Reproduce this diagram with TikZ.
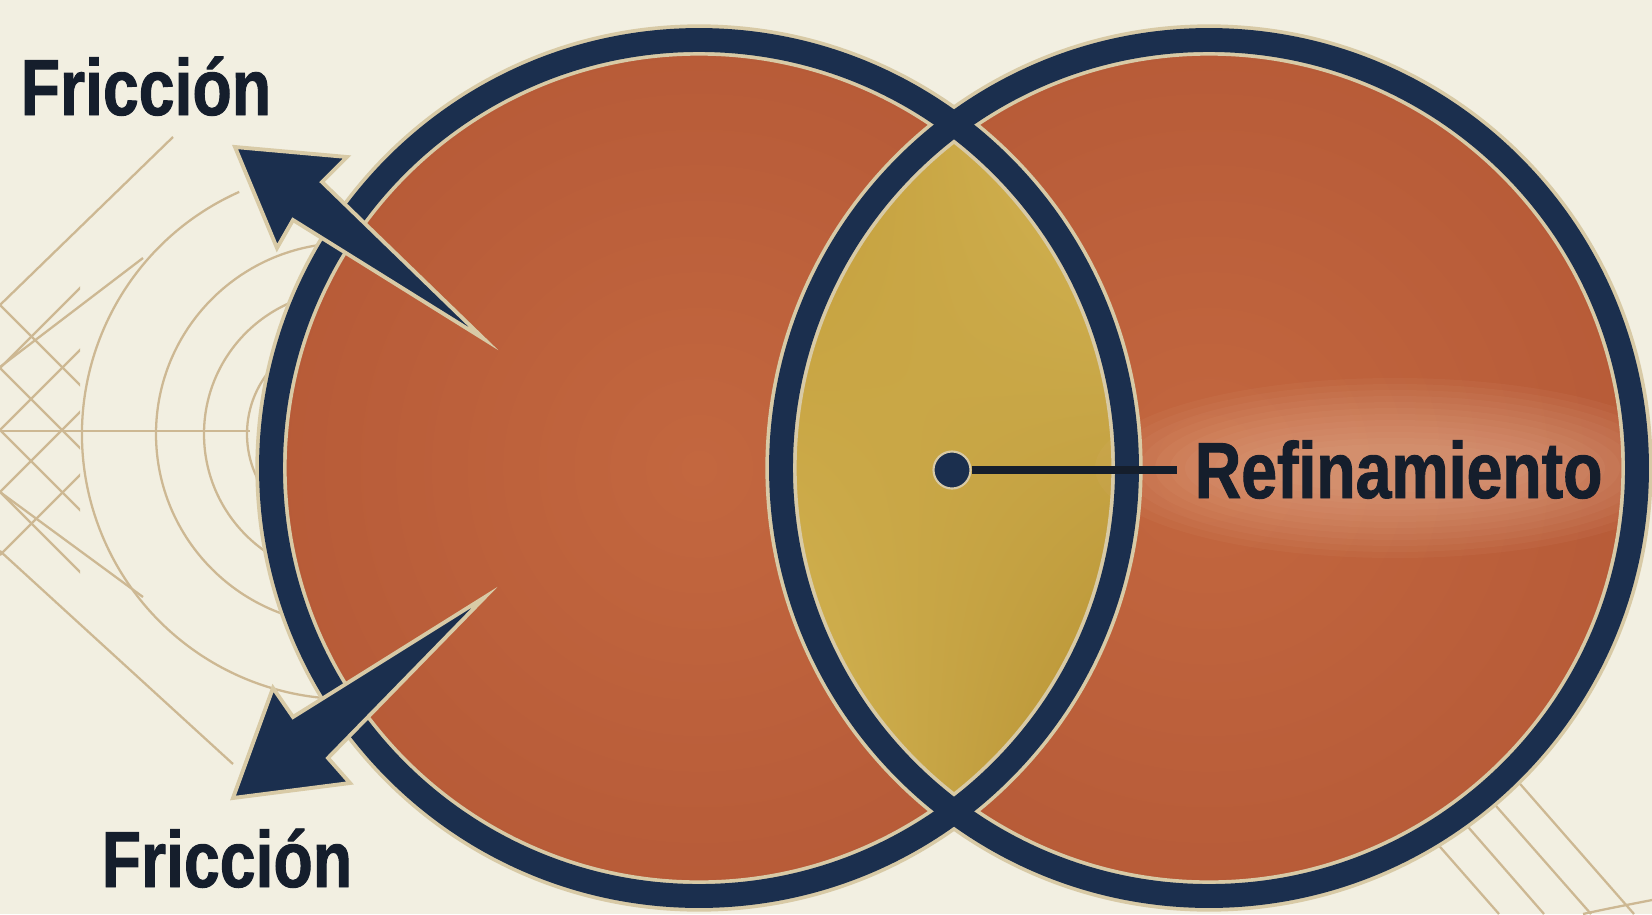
\documentclass[tikz,border=0pt]{standalone}
\usepackage{fontspec}
\usetikzlibrary{shadings}
\newfontfamily\lblfont[FakeStretch=0.81, FakeBold=1.2]{Liberation Sans}
\definecolor{bg}{HTML}{F2EFE1}
\definecolor{orL}{HTML}{C3673F}
\definecolor{orD}{HTML}{B75B38}
\definecolor{goldL}{HTML}{D5B756}
\definecolor{goldD}{HTML}{B48D2F}
\definecolor{goldM}{HTML}{C29C3A}
\definecolor{navy}{HTML}{1B2F4E}
\definecolor{ink}{HTML}{151E2C}
\definecolor{tan}{HTML}{CDB893}
\definecolor{rim}{HTML}{D8CAA6}
\definecolor{glow}{HTML}{F2C4A8}
\tikzset{
  deco/.style={draw=tan, line width=0.65pt},
  rimline/.style={draw=rim, line width=8.9pt},
  ringline/.style={draw=navy, line width=6.8pt},
  arrowshape/.style={fill=navy, draw=rim, line width=1.1pt, line join=miter, miter limit=20},
  lbl/.style={font=\lblfont\bfseries\fontsize{22.6}{27}\selectfont, text=ink, inner sep=0pt},
}
\begin{document}
\begin{tikzpicture}[x=0.01cm, y=0.01cm]
\useasboundingbox (0,0) rectangle (1652,914);
\fill[bg] (0,0) rectangle (1652,914);

% ---- background decoration, left
\draw[deco] (0,483) -- (250,483);
\draw[deco] (347,480) ++(114:265) arc[start angle=114, end angle=275, radius=265];
\draw[deco] (347,480) ++(90:191) arc[start angle=90, end angle=270, radius=191];
\draw[deco] (347,480) ++(90:143) arc[start angle=90, end angle=270, radius=143];
\draw[deco] (347,480) ++(90:100) arc[start angle=90, end angle=270, radius=100];
\draw[deco] (173,777) -- (0,609);
\draw[deco] (0,363) -- (233,150);
\draw[deco] (0,547) -- (143,656);
\draw[deco] (0,422) -- (143,317);
\begin{scope}
  \clip (0,0) rectangle (80,914);
  \foreach \c in {305,368,430,492}{\draw[deco] (0,914-\c) -- (100,814-\c);}
  \foreach \c in {368,430,492,555}{\draw[deco] (0,914-\c) -- (100,1014-\c);}
\end{scope}
% ---- background decoration, bottom right
\draw[deco] (1434,74) -- (1499,0);
\draw[deco] (1462,94) -- (1544,0);
\draw[deco] (1489,116) -- (1591,0);
\draw[deco] (1514,137) -- (1634,0);
\draw[deco] (1583,0) .. controls (1610,6) and (1632,10) .. (1652,14);

% ---- circles
\coordinate (Lc) at (699,446);
\coordinate (Rc) at (1209,446);
\shade[inner color=orL, outer color=orD] (Lc) circle (428);
\shade[inner color=orL, outer color=orD] (Rc) circle (428);
\begin{scope}
  \clip (Lc) circle (428);
  \clip (Rc) circle (428);
  \shade[upper left=goldM, lower left=goldL, upper right=goldL, lower right=goldD] (781,100) rectangle (1127,792);
\end{scope}
\begin{scope}
  \clip (Rc) circle (416);
  \foreach \i in {1,...,12}{
    \fill[glow, opacity=0.055] (1395,446) ellipse ({120+15*\i} and {18+6*\i});
  }
\end{scope}
\draw[rimline] (Lc) circle (428);
\draw[rimline] (Rc) circle (428);
\draw[ringline] (Lc) circle (428);
\draw[ringline] (Rc) circle (428);

% ---- friction arrows
\path[arrowshape] (235,767) -- (277,666) -- (293,694) -- (484,575) -- (322,732) -- (347,757) -- cycle;
\path[arrowshape] (233,116) -- (273,226) -- (293,197) -- (485,317) -- (328,156) -- (350,131) -- cycle;

% ---- labels
\node[lbl, anchor=base west] (fricTop) at (20,799) {Fricción};
\node[lbl, anchor=base west] (fricBot) at (101,27) {Fricción};
\node[lbl, anchor=base west, inner xsep=0.17cm] (refin) at (1177,416) {Refinamiento};
\node[circle, fill=navy, draw=rim, line width=0.6pt, minimum size=0.37cm, inner sep=0pt] (dot) at (952,444) {};
\draw[ink, line width=2pt] (dot.east) -- (refin.west |- dot.east);
\end{tikzpicture}
\end{document}
